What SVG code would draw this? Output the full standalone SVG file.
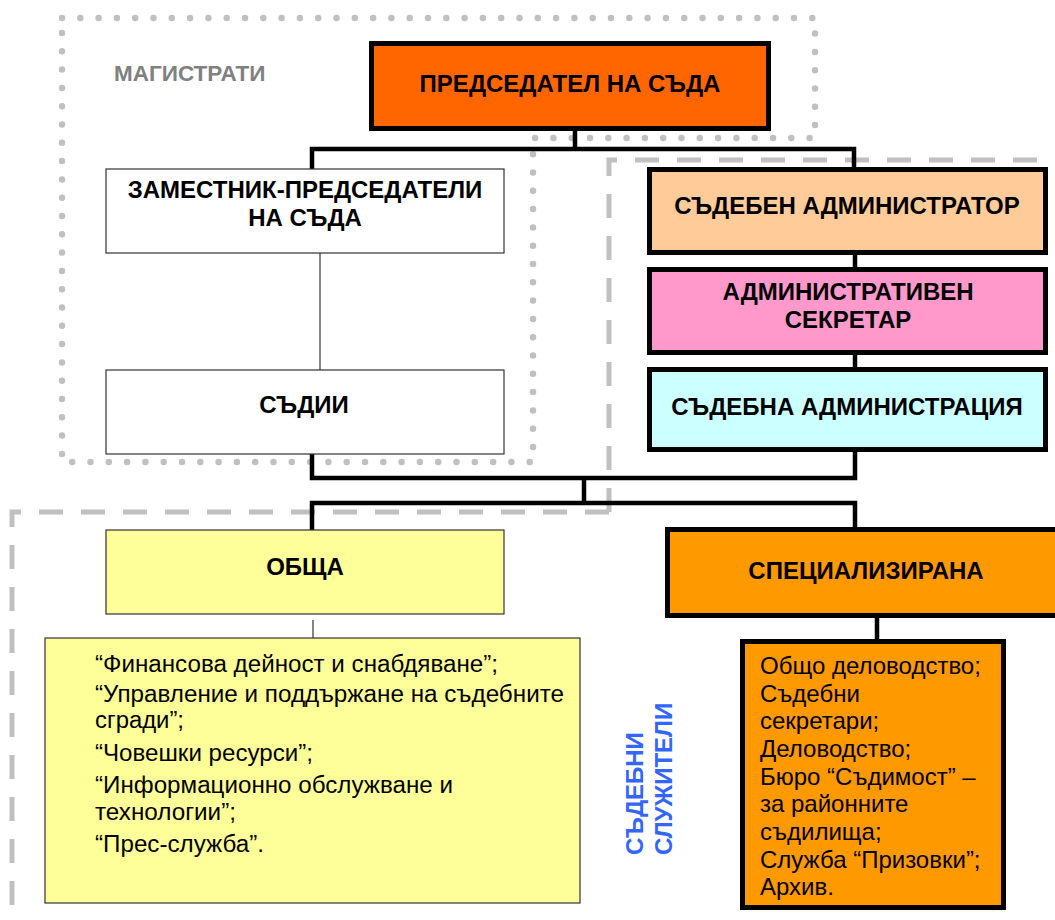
<svg xmlns="http://www.w3.org/2000/svg" width="1055" height="920" viewBox="0 0 1055 920">
<style>
.title{font-family:"Liberation Sans",Arial,sans-serif;font-weight:bold;font-size:24px;fill:#000;text-anchor:middle}
.txt{font-family:"Liberation Sans",Arial,sans-serif;font-size:23px;fill:#000}
.txt2{font-family:"Liberation Sans",Arial,sans-serif;font-size:24px;fill:#000}
.thick{stroke:#000;stroke-width:5}
.thin{stroke:#333;stroke-width:1.2}
.conn{fill:none;stroke:#000;stroke-width:4.5;stroke-linejoin:miter}
.conn-thin{fill:none;stroke:#333;stroke-width:1.2}
.dots{fill:none;stroke:#c0c0c0;stroke-width:6.5;stroke-linecap:round;stroke-dasharray:0 18.3}
.dashes{fill:none;stroke:#c0c0c0;stroke-width:5;stroke-dasharray:24 18}
</style>
<rect width="1055" height="920" fill="#fff"/>
<g id="groups">
<path class="dots" d="M62,18 H815 V138 H533 V462 H62 Z"/>
<path class="dashes" d="M609,512 V160 H1060"/>
<path class="dashes" d="M609,512 H12 V925"/>
<text x="114" y="81" style="font-family:'Liberation Sans',Arial,sans-serif;font-weight:bold;font-size:22.5px;fill:#808080">МАГИСТРАТИ</text>
<g style="font-family:'Liberation Sans',Arial,sans-serif;font-weight:bold;font-size:24px;fill:#3366ff">
<text transform="translate(643,855) rotate(-90)">СЪДЕБНИ</text>
<text transform="translate(672,855) rotate(-90)">СЛУЖИТЕЛИ</text>
</g>
</g>
<g id="connectors">
<path class="conn" d="M575,131 V149"/>
<path class="conn" d="M312,169 V149 H854 V169"/>
<path class="conn" d="M855,255 V269"/>
<path class="conn" d="M855,355 V369"/>
<path class="conn" d="M312,454 V478 H855 V452"/>
<path class="conn" d="M584,478 V503"/>
<path class="conn" d="M312,530 V503 H855 V529"/>
<path class="conn" d="M877,618 V641"/>
<path class="conn-thin" d="M320,247 V370"/>
<path class="conn-thin" d="M313,620 V638"/>
</g>
<g id="n-predsedatel">
<rect x="371.5" y="43.5" width="397" height="85" fill="#ff6600" class="thick"/>
<text class="title" x="570" y="92">ПРЕДСЕДАТЕЛ НА СЪДА</text>
</g>
<g id="n-zamestnik">
<rect x="106" y="169" width="398" height="84" fill="#fff" class="thin"/>
<text class="title" x="305" y="198">ЗАМЕСТНИК-ПРЕДСЕДАТЕЛИ</text>
<text class="title" x="305" y="226">НА СЪДА</text>
</g>
<g id="n-sadii">
<rect x="106" y="370" width="398" height="84" fill="#fff" class="thin"/>
<text class="title" x="304" y="413">СЪДИИ</text>
</g>
<g id="n-sad-administrator">
<rect x="649.5" y="169.5" width="396" height="83" fill="#ffcc99" class="thick"/>
<text class="title" x="847" y="214">СЪДЕБЕН АДМИНИСТРАТОР</text>
</g>
<g id="n-adm-sekretar">
<rect x="649.5" y="269.5" width="396" height="83" fill="#ff99cc" class="thick"/>
<text class="title" x="848" y="300">АДМИНИСТРАТИВЕН</text>
<text class="title" x="848" y="328">СЕКРЕТАР</text>
</g>
<g id="n-sad-administracia">
<rect x="649.5" y="369.5" width="396" height="80" fill="#ccffff" class="thick"/>
<text class="title" x="847" y="415">СЪДЕБНА АДМИНИСТРАЦИЯ</text>
</g>
<g id="n-obshta">
<rect x="106" y="530" width="398" height="84" fill="#ffff99" class="thin"/>
<text class="title" x="305" y="575">ОБЩА</text>
</g>
<g id="n-obshta-list">
<rect x="45" y="638" width="535" height="265" fill="#ffff99" class="thin"/>
<text class="txt" x="95" y="672" textLength="403" lengthAdjust="spacingAndGlyphs">“Финансова дейност и снабдяване”;</text>
<text class="txt" x="95" y="702" textLength="469" lengthAdjust="spacingAndGlyphs">“Управление и поддържане на съдебните</text>
<text class="txt" x="95" y="728" textLength="89" lengthAdjust="spacingAndGlyphs">сгради”;</text>
<text class="txt" x="95" y="761" textLength="218" lengthAdjust="spacingAndGlyphs">“Човешки ресурси”;</text>
<text class="txt" x="95" y="793" textLength="358" lengthAdjust="spacingAndGlyphs">“Информационно обслужване и</text>
<text class="txt" x="95" y="820" textLength="141" lengthAdjust="spacingAndGlyphs">технологии”;</text>
<text class="txt" x="95" y="852" textLength="169" lengthAdjust="spacingAndGlyphs">“Прес-служба”.</text>
</g>
<g id="n-specializirana">
<rect x="667.5" y="529.5" width="400" height="86" fill="#ff9900" class="thick"/>
<text class="title" x="866" y="579">СПЕЦИАЛИЗИРАНА</text>
</g>
<g id="n-spec-list">
<rect x="742.5" y="641.5" width="261" height="266" fill="#ff9900" class="thick"/>
<text class="txt2" x="760" y="674">Общо деловодство;</text>
<text class="txt2" x="760" y="702">Съдебни</text>
<text class="txt2" x="760" y="729">секретари;</text>
<text class="txt2" x="760" y="757">Деловодство;</text>
<text class="txt2" x="760" y="785">Бюро “Съдимост” –</text>
<text class="txt2" x="760" y="812">за районните</text>
<text class="txt2" x="760" y="840">съдилища;</text>
<text class="txt2" x="760" y="868">Служба “Призовки”;</text>
<text class="txt2" x="760" y="895">Архив.</text>
</g>
</svg>
